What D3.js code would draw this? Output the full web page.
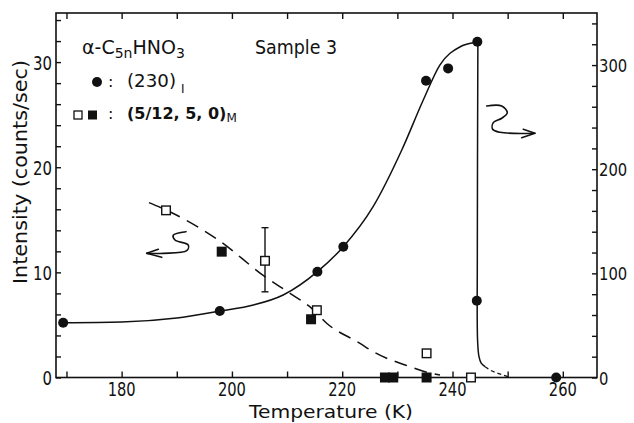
<!DOCTYPE html>
<html><head><meta charset="utf-8">
<script src="https://cdn.jsdelivr.net/npm/d3@7"></script>
<style>
html,body{margin:0;padding:0;background:#fff;}
svg{display:block;}
text{font-family:"DejaVu Sans",sans-serif;fill:#111;}
</style></head>
<body>
<svg id="c" width="634" height="423"></svg>
<script>
// ---- data ----
const xTicksMajor = [180, 200, 220, 240, 260];
const xTicksAll = [170, 180, 190, 200, 210, 220, 230, 240, 250, 260];
const yLeftMajor = [0, 10, 20, 30];
const yRightMajor = [0, 100, 200, 300];
// (230)_I circles, right axis units
const circleT = [169.4, 197.8, 215.5, 220.2, 235.2, 239.2, 244.5, 244.4, 258.8];
const circleV = [52.6, 63.8, 101.6, 125.6, 284.9, 296.8, 322.4, 73.7, 0];
// (5/12,5,0)_M open squares, left axis units
const openT = [188.05, 206.0, 215.4, 235.3, 243.35];
const openV = [15.9, 11.1, 6.4, 2.3, 0];
const errT = [206.0];
const errLo = [8.15];
const errHi = [14.25];
// filled squares
const filledT = [198.15, 214.35, 227.75, 229.25, 235.3];
const filledV = [11.97, 5.54, 0, 0, 0];
// solid fitted curve (right units)
const solidT = [169.4, 180, 190, 197.8, 203.9, 209.3, 215.5, 220.2, 225.6, 230.8, 234.7, 237.7, 241.4, 243.8, 244.6];
const solidV = [52.6, 53.3, 57.1, 63.8, 69.6, 79.2, 101.6, 125.6, 164, 218.4, 266.4, 300, 317.6, 321.4, 322];
const dropT = [244.6, 244.5, 244.55, 244.8, 245.2, 245.9];
const dropV = [322, 120, 35, 20, 13.8, 10.4];
const tailT = [245.9, 246.8, 249.2, 250.4];
const tailV = [10.4, 7.2, 2.4, 0];
// dashed curve (left units)
const dashT = [184.96, 188.05, 197.53, 205.99, 210.53, 214.46, 217.18, 223.22, 225.63, 232.29, 235.0, 237.73];
const dashV = [16.63, 15.93, 13.08, 9.59, 8.01, 6.58, 5.16, 3.25, 2.45, 1.03, 0.55, 0.24];
// annotation arrows (left-axis data units)
const arrowLeftT = [191.67, 189.37, 189.68, 192.09, 191.8, 187.56, 184.55];
const arrowLeftV = [13.87, 13.55, 13.08, 12.6, 12.06, 11.81, 11.81];
const arrowLeftHeadT = [186.65, 184.55, 187.27];
const arrowLeftHeadV = [12.19, 11.81, 11.43];
const arrowRightT = [246.2, 248.92, 249.93, 248.92, 247.39, 247.28, 248.61, 254.95];
const arrowRightV = [25.83, 25.83, 25.19, 24.66, 24.24, 23.61, 23.32, 23.23];
const arrowRightHeadT = [252.83, 254.95, 252.54];
const arrowRightHeadV = [23.61, 23.23, 22.81];

// ---- scales ----
const L = 56, R = 597, T = 13, B = 377.5;
const x = d3.scaleLinear().domain([168.1, 266.2]).range([L, R]);
const yL = d3.scaleLinear().domain([0, 34.67]).range([B, T]);
const yR = d3.scaleLinear().domain([0, 350]).range([B, T]);

const svg = d3.select("#c");
const ink = "#111";

// frame
svg.append("rect").attr("x", L).attr("y", T).attr("width", R - L).attr("height", B - T)
  .attr("fill", "none").attr("stroke", ink).attr("stroke-width", 1.6);

// axes (ticks inward)
const axB = d3.axisTop(x).tickValues(xTicksAll).tickSize(6).tickFormat("");
svg.append("g").attr("transform", `translate(0,${B})`).call(axB);
const axT = d3.axisBottom(x).tickValues(xTicksAll).tickSize(6).tickFormat("");
svg.append("g").attr("transform", `translate(0,${T})`).call(axT);
const axL = d3.axisRight(yL).tickValues(d3.range(0, 35, 2)).tickSize(5).tickFormat("");
svg.append("g").attr("transform", `translate(${L},0)`).call(axL);
const axR = d3.axisLeft(yR).tickValues(d3.range(0, 341, 20)).tickSize(5).tickFormat("");
svg.append("g").attr("transform", `translate(${R},0)`).call(axR);
svg.selectAll(".domain").remove();
svg.selectAll(".tick line").attr("stroke", ink).attr("stroke-width", 1.4);

// tick labels
svg.selectAll(".xl").data(xTicksMajor).enter().append("text")
  .attr("x", d => x(d)).attr("y", B + 18.5).attr("text-anchor", "middle")
  .attr("font-size", 19).attr("textLength", 28).attr("lengthAdjust", "spacingAndGlyphs")
  .text(d => d);
svg.selectAll(".yl").data(yLeftMajor).enter().append("text")
  .attr("x", L - 4).attr("y", d => yL(d) + 7.5).attr("text-anchor", "end")
  .attr("font-size", 20).attr("textLength", d => String(d).length * 9.5).attr("lengthAdjust", "spacingAndGlyphs")
  .text(d => d);
svg.selectAll(".yr").data(yRightMajor).enter().append("text")
  .attr("x", R + 2).attr("y", d => yR(d) + 7).attr("text-anchor", "start")
  .attr("font-size", 17.5).attr("textLength", d => String(d).length * 9.4).attr("lengthAdjust", "spacingAndGlyphs")
  .text(d => d);

// axis titles
svg.append("text").attr("x", 331).attr("y", 418).attr("text-anchor", "middle")
  .attr("font-size", 18.5).attr("textLength", 164).attr("lengthAdjust", "spacingAndGlyphs")
  .text("Temperature  (K)");
svg.append("text").attr("transform", "translate(27,172) rotate(-90)").attr("text-anchor", "middle")
  .attr("font-size", 19).attr("textLength", 224).attr("lengthAdjust", "spacingAndGlyphs")
  .text("Intensity  (counts/sec)");

// curves
const lineR = d3.line().x(d => x(d[0])).y(d => yR(d[1]));
const lineL = d3.line().x(d => x(d[0])).y(d => yL(d[1]));
svg.append("path").datum(d3.zip(solidT, solidV))
  .attr("d", lineR.curve(d3.curveMonotoneX)).attr("fill", "none").attr("stroke", ink).attr("stroke-width", 1.5);
svg.append("path").datum(d3.zip(dropT, dropV))
  .attr("d", d3.line().x(d => x(d[0])).y(d => yR(d[1])).curve(d3.curveCatmullRom.alpha(0.5)))
  .attr("fill", "none").attr("stroke", ink).attr("stroke-width", 1.5);
svg.append("path").datum(d3.zip(tailT, tailV))
  .attr("d", d3.line().x(d => x(d[0])).y(d => yR(d[1])).curve(d3.curveMonotoneX))
  .attr("fill", "none").attr("stroke", ink).attr("stroke-width", 1.3).attr("stroke-dasharray", "4,3");
svg.append("path").datum(d3.zip(dashT, dashV))
  .attr("d", lineL.curve(d3.curveMonotoneX)).attr("fill", "none").attr("stroke", ink)
  .attr("stroke-width", 1.5).attr("stroke-dasharray", "13,8");

// arrows
const lineA = d3.line().x(d => x(d[0])).y(d => yL(d[1])).curve(d3.curveCatmullRom.alpha(0.5));
const lineStraight = d3.line().x(d => x(d[0])).y(d => yL(d[1]));
[[arrowLeftT, arrowLeftV, arrowLeftHeadT, arrowLeftHeadV], [arrowRightT, arrowRightV, arrowRightHeadT, arrowRightHeadV]]
  .forEach(([at, av, ht, hv]) => {
    svg.append("path").datum(d3.zip(at, av)).attr("d", lineA).attr("fill", "none")
      .attr("stroke", ink).attr("stroke-width", 1.6).attr("stroke-linecap", "round");
    svg.append("path").datum(d3.zip(ht, hv)).attr("d", lineStraight).attr("fill", "none")
      .attr("stroke", ink).attr("stroke-width", 1.6).attr("stroke-linecap", "round").attr("stroke-linejoin", "round");
  });

// error bar
errT.forEach((t, i) => {
  const g = svg.append("g").attr("stroke", ink).attr("stroke-width", 1.4);
  g.append("line").attr("x1", x(t)).attr("x2", x(t)).attr("y1", yL(errLo[i])).attr("y2", yL(errHi[i]));
  g.append("line").attr("x1", x(t) - 3.5).attr("x2", x(t) + 3.5).attr("y1", yL(errLo[i])).attr("y2", yL(errLo[i]));
  g.append("line").attr("x1", x(t) - 3.5).attr("x2", x(t) + 3.5).attr("y1", yL(errHi[i])).attr("y2", yL(errHi[i]));
});

// markers
svg.selectAll(".fs").data(d3.zip(filledT, filledV)).enter().append("rect")
  .attr("x", d => x(d[0]) - 5).attr("y", d => yL(d[1]) - 5).attr("width", 10).attr("height", 10).attr("fill", ink);
svg.selectAll(".os").data(d3.zip(openT, openV)).enter().append("rect")
  .attr("x", d => x(d[0]) - 4.3).attr("y", d => yL(d[1]) - 4.3).attr("width", 8.6).attr("height", 8.6)
  .attr("fill", "#fff").attr("stroke", ink).attr("stroke-width", 1.4);
svg.selectAll(".ci").data(d3.zip(circleT, circleV)).enter().append("circle")
  .attr("cx", d => x(d[0])).attr("cy", d => yR(d[1])).attr("r", 5).attr("fill", ink);

// legend / labels
const t1 = svg.append("text").attr("x", 82).attr("y", 54).attr("font-size", 19);
t1.append("tspan").text("α-C");
t1.append("tspan").attr("font-size", 14).attr("dy", 4).text("5n");
t1.append("tspan").attr("dy", -4).text("HNO");
t1.append("tspan").attr("font-size", 14).attr("dy", 4).text("3");
svg.append("text").attr("x", 255).attr("y", 54).attr("font-size", 19)
  .attr("textLength", 82).attr("lengthAdjust", "spacingAndGlyphs").text("Sample 3");

svg.append("circle").attr("cx", 97).attr("cy", 82).attr("r", 5).attr("fill", ink);
svg.append("text").attr("x", 108).attr("y", 87).attr("font-size", 16).text(":");
svg.append("text").attr("x", 127).attr("y", 87).attr("font-size", 17)
  .attr("textLength", 49).attr("lengthAdjust", "spacingAndGlyphs").text("(230)");
svg.append("text").attr("x", 181).attr("y", 93).attr("font-size", 12).text("I");

svg.append("rect").attr("x", 74).attr("y", 111).attr("width", 8).attr("height", 8)
  .attr("fill", "#fff").attr("stroke", ink).attr("stroke-width", 1.3);
svg.append("rect").attr("x", 88).attr("y", 110.5).attr("width", 9).attr("height", 9).attr("fill", ink);
svg.append("text").attr("x", 108).attr("y", 119).attr("font-size", 16).text(":");
const t3 = svg.append("text").attr("x", 127).attr("y", 119).attr("font-size", 16).attr("font-weight", "bold");
t3.append("tspan").text("(5/12, 5, 0)");
t3.append("tspan").attr("font-size", 12).attr("font-weight", "normal").attr("dy", 3).text("M");
</script>
</body></html>
